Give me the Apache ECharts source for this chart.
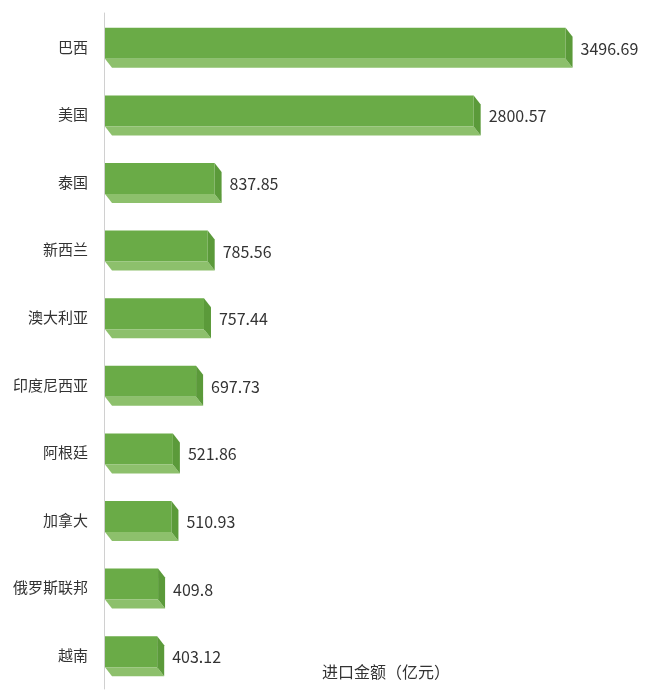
<!DOCTYPE html>
<html>
<head>
<meta charset="utf-8">
<script src="https://cdn.jsdelivr.net/npm/echarts@6/dist/echarts.min.js"></script>
<style>html,body{margin:0;padding:0;background:#fff;}#main{width:646px;height:700px;}</style>
</head>
<body>
<div id="main"></div>
<script>
const categories = ['巴西','美国','泰国','新西兰','澳大利亚','印度尼西亚','阿根廷','加拿大','俄罗斯联邦','越南'];
const values = [3496.69, 2800.57, 837.85, 785.56, 757.44, 697.73, 521.86, 510.93, 409.8, 403.12];
const axisName = '进口金额（亿元）';

const FONT = '"Noto Sans CJK SC", "Noto Sans", sans-serif';
const chart = echarts.init(document.getElementById('main'));
const data = values.map((v, i) => [v, i]);

chart.setOption({
  animation: false,
  title: {
    text: axisName, left: 317, top: 659,
    textStyle: { fontSize: 16, fontWeight: 'normal', color: '#333', fontFamily: FONT }
  },
  grid: { left: 104, right: 14, top: 13, bottom: 11 },
  xAxis: { type: 'value', min: 0, max: 4000, show: false },
  yAxis: {
    type: 'category', data: categories, inverse: true,
    axisLine: { show: true, lineStyle: { color: '#d0d0d0', width: 1 } },
    axisTick: { show: false },
    axisLabel: { color: '#333', fontSize: 15, margin: 16, fontFamily: FONT }
  },
  series: [{
    type: 'custom',
    data: data,
    encode: { x: 0, y: 1 },
    renderItem: function (params, api) {
      const v = api.value(0), c = api.value(1);
      const s = api.coord([0, c]);
      const e = api.coord([v, c]);
      const x0 = s[0] + 1, x1 = e[0], cy = s[1];
      const H = 31, D = 9, DX = 7;
      const top = cy - 19;
      return {
        type: 'group',
        children: [
          { type: 'rect', shape: { x: x0, y: top, width: x1 - x0, height: H }, style: { fill: '#6aab47' } },
          { type: 'polygon', shape: { points: [[x0, top + H], [x1, top + H], [x1 + DX, top + H + D], [x0 + DX, top + H + D]] }, style: { fill: '#8dc06c' } },
          { type: 'polygon', shape: { points: [[x1, top], [x1 + DX, top + D], [x1 + DX, top + H + D], [x1, top + H]] }, style: { fill: '#5b9a3a' } },
          { type: 'text', x: x1 + DX + 8, y: cy + 2, style: { text: String(v), fill: '#333', fontSize: 16, fontFamily: FONT, align: 'left', verticalAlign: 'middle' } }
        ]
      };
    }
  }]
});
</script>
</body>
</html>
